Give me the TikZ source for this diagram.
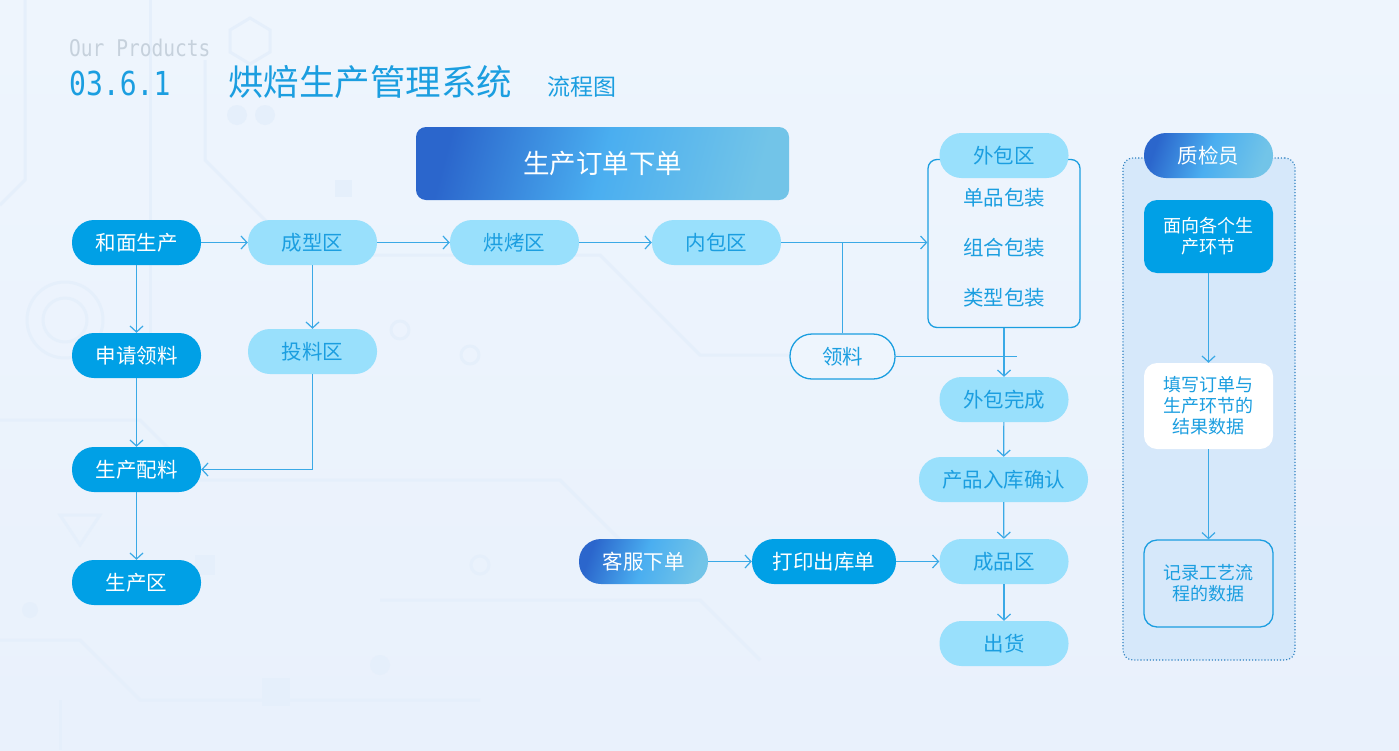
\documentclass[tikz,border=0pt]{standalone}
\usepackage{fontspec}
\setmainfont{Noto Sans CJK SC}
\newfontfamily\monof[FakeStretch=0.85]{DejaVu Sans Mono}
\usetikzlibrary{arrows.meta}
\definecolor{bg}{HTML}{EEF5FD}
\definecolor{bgb}{HTML}{E9F1FC}
\definecolor{deco}{HTML}{E5EFFB}
\definecolor{dk}{HTML}{00A0E6}
\definecolor{lt}{HTML}{99E0FC}
\definecolor{tb}{HTML}{1B9EE0}
\definecolor{ln}{HTML}{3AA9E6}
\definecolor{gA}{HTML}{2B66CC}
\definecolor{gB}{HTML}{4AAEF0}
\definecolor{gC}{HTML}{72C4E8}
\definecolor{panel}{HTML}{D6E8FA}
\definecolor{dotc}{HTML}{2A7FC0}
\definecolor{grayt}{HTML}{C6D1DC}
\tikzset{
  pill/.style={rectangle, rounded corners=22pt, minimum width=129pt, minimum height=45pt, inner sep=0pt, font=\fontsize{20.5}{23}\selectfont},
  dkpill/.style={pill, fill=dk, text=white},
  ltpill/.style={pill, fill=lt, text=tb},
  gradpill/.style={pill, left color=gA, right color=gC, middle color=gB, shading angle=70, text=white},
  arr/.style={draw=ln, line width=1.2pt, -{Straight Barb[length=6pt,width=13pt,line width=1.2pt]}},
  ln/.style={draw=ln, line width=1.2pt},
  pbox/.style={rectangle, rounded corners=13pt, minimum width=129pt, inner sep=0pt, align=center, font=\fontsize{18}{21}\selectfont},
  item/.style={text=tb, font=\fontsize{20.5}{23}\selectfont}
}
\begin{document}
\begin{tikzpicture}[x=1pt,y=-1pt]
\useasboundingbox (0,0) rectangle (1399,750);
\shade[top color=bg, bottom color=bgb] (0,0) rectangle (1399,750);
% faint background decoration
\begin{scope}[deco, line width=3pt]
\draw (65,320) circle (38); \draw (65,320) circle (22);
\fill (237,115) circle (10); \fill (265,115) circle (10);
\draw (400,330) circle (9); \draw (470,355) circle (9);
\fill (335,180) rectangle (352,197); \fill (195,555) rectangle (215,575);
\fill (262,678) rectangle (290,706);
\draw (230,30) -- (250,18) -- (270,30) -- (270,52) -- (250,64) -- (230,52) -- cycle;
\draw (60,515) -- (100,515) -- (80,545) -- cycle;
\draw (25,0) -- (25,180) -- (0,205);
\draw (150,0) -- (150,360);
\draw (205,60) -- (205,160) -- (300,255) -- (600,255) -- (700,355) -- (900,355);
\draw (0,420) -- (140,420) -- (200,480) -- (560,480) -- (640,560);
\draw (0,640) -- (80,640) -- (140,700) -- (480,700);
\draw (380,600) -- (700,600) -- (760,660);
\draw (60,700) -- (60,750);
\fill (380,665) circle (10); \fill (30,610) circle (8);
\draw (480,565) circle (9);
\end{scope}
% title
\node[anchor=base west, inner sep=0pt, text=grayt, font=\monof\fontsize{23}{26}\selectfont] (our) at (69,56) {Our Products};
\node[anchor=base west, inner sep=0pt, text=tb, font=\monof\fontsize{33}{36}\selectfont] (num) at (69,95) {03.6.1};
\node[anchor=west, inner sep=0pt, text=tb, font=\fontsize{35.5}{38}\selectfont] (title) at (228,82) {烘焙生产管理系统};
\node[anchor=west, inner sep=0pt, text=tb, font=\fontsize{23}{26}\selectfont] (sub) at (547,87) {流程图};
% order box
\node[rectangle, rounded corners=10pt, minimum width=373pt, minimum height=73pt, left color=gA, right color=gC, middle color=gB, shading angle=75, text=white, font=\fontsize{26.5}{29}\selectfont] (order) at (602.5,163.5) {生产订单下单};
% left column
\node[dkpill] (hm) at (136.5,242.5) {和面生产};
\node[dkpill] (sq) at (136.5,355.5) {申请领料};
\node[dkpill] (pl) at (136.5,469.5) {生产配料};
\node[dkpill] (scq) at (136.5,582.5) {生产区};
\node[ltpill] (cx) at (312.5,242.5) {成型区};
\node[ltpill] (tl) at (312.5,351.5) {投料区};
\node[ltpill] (hk) at (514.5,242.5) {烘烤区};
\node[ltpill] (nb) at (716.5,242.5) {内包区};
% outer packaging
\node[rectangle, draw=tb, line width=1.3pt, rounded corners=9pt, minimum width=152pt, minimum height=168pt, inner sep=0pt] (wbox) at (1004,243.5) {};
\node[ltpill] (wb) at (1004,155.5) {外包区};
\node[item] (i1) at (1004,198) {单品包装};
\node[item] (i2) at (1004,248) {组合包装};
\node[item] (i3) at (1004,298) {类型包装};
\node[pill, draw=tb, line width=1.3pt, fill=bg, text=tb, minimum width=105pt] (ll) at (842.5,356.5) {领料};
\node[ltpill] (wbwc) at (1004,399.5) {外包完成};
\node[ltpill, minimum width=169pt] (rk) at (1003.5,479.5) {产品入库确认};
\node[ltpill] (cp) at (1004,561.5) {成品区};
\node[ltpill] (ch) at (1004,643.5) {出货};
\node[gradpill] (kf) at (643.5,561.5) {客服下单};
\node[dkpill, minimum width=144pt] (dy) at (824,561.5) {打印出库单};
% QC panel
\node[rectangle, rounded corners=10pt, fill=panel, draw=dotc, line width=1.1pt, dotted, minimum width=172pt, minimum height=502pt, inner sep=0pt] (panelbox) at (1209,409) {};
\node[gradpill] (zj) at (1208.5,155.5) {质检员};
\node[pbox, fill=dk, text=white, minimum height=73pt] (q1) at (1208.5,236.5) {面向各个生\\产环节};
\node[pbox, fill=white, text=tb, minimum height=86pt] (q2) at (1208.5,406) {填写订单与\\生产环节的\\结果数据};
\node[pbox, fill=panel, draw=tb, line width=1.3pt, text=tb, minimum height=87pt] (q3) at (1208.5,583.5) {记录工艺流\\程的数据};
% coordinates
\coordinate (jn) at (842.5,242.5);
\coordinate (lend) at (1017,356.5);
\coordinate (tlb) at (312.5,469.5);
% connectors
\draw[arr] (hm) -- (cx);
\draw[arr] (cx) -- (hk);
\draw[arr] (hk) -- (nb);
\draw[arr] (nb.east) -- (nb.east -| wbox.west);
\draw[ln] (ll.north) -- (jn);
\draw[ln] (ll.east) -- (lend);
\draw[arr] (wbox.south) -- (wbwc.north);
\draw[arr] (wbwc) -- (rk);
\draw[arr] (rk) -- (cp);
\draw[arr] (cp) -- (ch);
\draw[arr] (kf) -- (dy);
\draw[arr] (dy) -- (cp);
\draw[arr] (hm) -- (sq);
\draw[arr] (sq) -- (pl);
\draw[arr] (pl) -- (scq);
\draw[arr] (cx) -- (tl);
\draw[arr] (tl.south) -- (tlb) -- (pl.east);
\draw[arr] (q1) -- (q2);
\draw[arr] (q2) -- (q3);
\end{tikzpicture}
\end{document}
